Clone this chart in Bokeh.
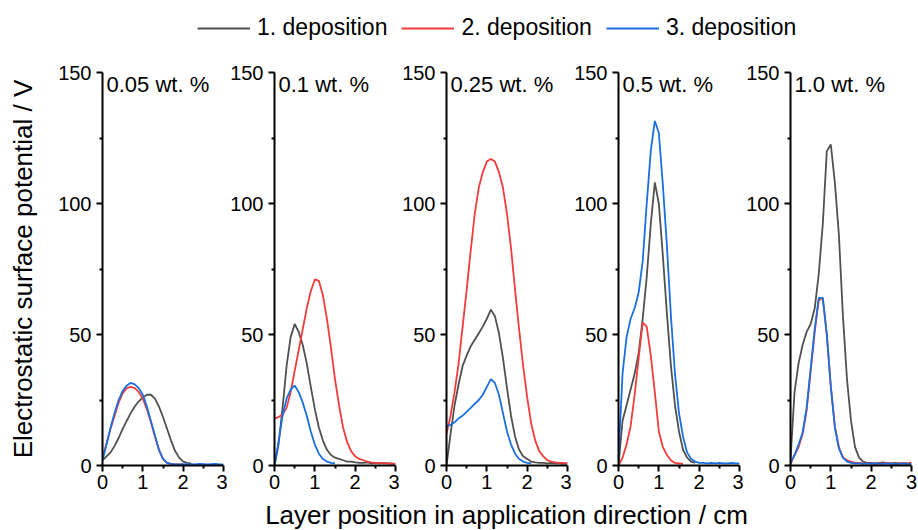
import numpy as np
from bokeh.plotting import figure
from bokeh.layouts import column, row
from bokeh.models import Range1d, Label, Legend, LegendItem, FixedTicker
from bokeh.embed import file_html
from bokeh.resources import INLINE

# ---------------- data ----------------
position_cm = [0.0, 0.1, 0.2, 0.3, 0.4, 0.5, 0.6, 0.7, 0.8, 0.9,
               1.0, 1.1, 1.2, 1.3, 1.4, 1.5, 1.6, 1.7, 1.8, 1.9,
               2.0, 2.1, 2.2, 2.3, 2.4, 2.5, 2.6, 2.7, 2.8, 2.9, 3.0]

panel_titles = ["0.05 wt. %", "0.1 wt. %", "0.25 wt. %", "0.5 wt. %", "1.0 wt. %"]
series_names = ["1. deposition", "2. deposition", "3. deposition"]
series_colors = ["#505050", "#f23c3c", "#1a6fe0"]

N = None
# 0.05 wt. %
dep1_005 = [2, 3.5, 5, 7.5, 10.5, 14, 17, 20, 22.5, 24.5, 26, 27, 27, 25.5, 22.5, 18.5, 14, 9.5, 5.5, 3, 1.5, 1, 0.8, N, N, N, N, N, N, N, N]
dep2_005 = [3, 8.5, 14, 19, 24, 27.5, 29.5, 30, 29.5, 28, 25.5, 21.5, 16.5, 11, 6, 2.5, 1, 0.6, 0.4, 0.4, 0.3, N, N, N, N, N, N, N, N, N, N]
dep3_005 = [2, 8, 14.5, 20, 25, 28.5, 30.5, 31.5, 31, 29.5, 27, 22.5, 17, 11.5, 6, 2.5, 1, 0.6, 0.4, 0.4, 0.5, 0.4, 0.5, 0.4, 0.6, 0.5, 0.4, 0.5, 0.6, 0.4, 0.4]
# 0.1 wt. %
dep1_01 = [0, 8, 22, 38, 49, 54, 51, 46, 39, 30, 21.5, 14.5, 9.5, 6, 4, 3, 2.5, 2, 1.5, 1.5, 1.2, 1, 1, 1.2, 0.8, 1, 0.8, 1, 0.8, 0.8, 0.6]
dep2_01 = [18, 18.5, 19.5, 22, 28, 36, 44, 52, 60, 66.5, 71, 70.5, 65, 56, 45, 33, 23, 14.5, 9, 5.5, 3.5, 2.5, 2, 1.5, 1.2, 1, 1, 0.8, 0.8, 0.6, 0.6]
dep3_01 = [0, 9, 19, 25.5, 29, 30.5, 28, 24, 19, 13, 8, 4.5, 2.5, 1.5, 1, 0.8, N, N, N, N, N, N, N, N, N, N, N, N, N, N, N]
# 0.25 wt. %
dep1_025 = [0, 12, 23, 31, 38, 42, 45.5, 48, 50.5, 53, 56, 59.5, 57, 50.5, 41, 29.5, 19, 11, 6, 3.5, 2.5, 1.5, 1.2, 1, 1, 0.8, 1, 0.8, 0.8, 0.6, 0.8]
dep2_025 = [12, 19, 28, 39, 53, 67, 82, 96, 106, 112, 116, 117, 116, 112, 106, 96, 83, 67, 52, 38, 26, 16, 9.5, 5.5, 3.5, 2, 1.5, 1.2, 1, 1, 0.8]
dep3_025 = [15, 15.5, 16.5, 18, 19, 20.5, 22, 23.5, 25, 27, 30, 33, 31.5, 27, 20, 13, 8, 4.5, 2.5, 1.5, 1, 0.8, N, N, N, N, N, N, N, N, N]
# 0.5 wt. %
dep1_05 = [0, 17, 23, 29, 35, 43, 56, 72, 92, 108, 100, 80, 58, 38, 23, 13, 6, 3, 1.5, 1, N, N, N, N, N, N, N, N, N, N, N]
dep2_05 = [0, 3, 8, 15, 27, 41, 54.5, 53, 42, 28, 13, 7, 4, 2, 1, 0.8, 0.6, N, N, N, N, N, N, N, N, N, N, N, N, N, N]
dep3_05 = [3, 35, 49, 56, 60, 66, 78, 100, 120, 131.5, 127, 107, 84, 57, 35, 20, 11, 5, 2.5, 1.5, 1, 1, 0.8, 1, 0.8, 1, 0.8, 0.8, 1, 0.8, 0.8]
# 1.0 wt. %
dep1_10 = [2, 28, 39, 46, 51, 54, 60, 73, 92, 120, 122.5, 108, 88, 57, 33, 17, 7, 3, 1.5, 1, 1, 0.8, 1, 1.2, 0.8, 0.8, 1, 0.8, 0.8, 0.6, 0.8]
dep2_10 = [0.5, 4, 7, 12, 21, 36, 51, 63, 64, 50, 30, 15, 7, 3, 2, 1.5, 1, 1, 0.8, 0.8, 0.8, 0.6, 0.8, 0.8, 1, 0.8, 0.6, 0.8, 1, 0.8, 1.2]
dep3_10 = [1, 4, 8, 12.5, 22, 37, 52, 64, 64, 50, 30, 14.5, 6.5, 3, 1.5, 1, 0.8, 0.8, 0.6, 0.8, 0.6, 0.8, 0.6, 0.6, 0.8, 0.6, 0.6, 0.6, 0.8, 0.6, 0.6]

panels = [
    (dep1_005, dep2_005, dep3_005),
    (dep1_01, dep2_01, dep3_01),
    (dep1_025, dep2_025, dep3_025),
    (dep1_05, dep2_05, dep3_05),
    (dep1_10, dep2_10, dep3_10),
]

x_ticks = [0, 1, 2, 3]
x_minor = [0.5, 1.5, 2.5]
y_ticks = [0, 50, 100, 150]
y_minor = [25, 75, 125]

FONT = "Liberation Sans"
TOTAL_W = 918
LINE_W = 1.8

# ---------------- legend strip ----------------
leg = figure(width=TOTAL_W, height=48, x_range=Range1d(0, 1), y_range=Range1d(0, 1),
             x_axis_type=None, y_axis_type=None, output_backend="svg",
             toolbar_location=None, min_border=0)
leg.outline_line_color = None
leg.grid.visible = False
items = []
for name, col in zip(series_names, series_colors):
    # legend swatch only: kept outside the visible range
    r = leg.line(x=[-2, -1], y=[-2, -2], line_color=col, line_width=LINE_W)
    items.append(LegendItem(label=name, renderers=[r]))
legend = Legend(items=items, orientation="horizontal", location=(197, 7),
                glyph_width=53, glyph_height=20, label_standoff=7, spacing=14,
                padding=0, margin=0, border_line_color=None, background_fill_alpha=0,
                label_text_font=FONT, label_text_font_size="23px", label_text_color="black")
leg.add_layout(legend, "center")

# ---------------- panels ----------------
figs = []
for i, (title, series) in enumerate(zip(panel_titles, panels)):
    first = i == 0
    last = i == len(panels) - 1
    p = figure(frame_width=121, frame_height=393,
               x_range=Range1d(0, 3), y_range=Range1d(0, 150),
               output_backend="svg", toolbar_location=None,
               min_border_left=102 if first else 47,
               min_border_right=7 if last else 4,
               min_border_top=24, min_border_bottom=34)
    p.outline_line_color = None
    p.grid.visible = False
    p.background_fill_color = None
    p.border_fill_color = None
    p.xaxis.ticker = FixedTicker(ticks=x_ticks, minor_ticks=x_minor)
    p.yaxis.ticker = FixedTicker(ticks=y_ticks, minor_ticks=y_minor)
    for ax in (p.xaxis, p.yaxis):
        ax.axis_line_width = 2
        ax.axis_line_color = "black"
        ax.major_tick_line_width = 2
        ax.minor_tick_line_width = 2
        ax.major_tick_line_color = "black"
        ax.minor_tick_line_color = "black"
        ax.major_tick_in = 0
        ax.major_tick_out = 6
        ax.minor_tick_in = 0
        ax.minor_tick_out = 3
        ax.major_label_text_font = FONT
        ax.major_label_text_font_size = "20px"
        ax.major_label_text_color = "black"
    p.xaxis.major_label_standoff = 3
    p.yaxis.major_label_standoff = 5
    if first:
        p.yaxis.axis_label = "Electrostatic surface potential / V"
        p.yaxis.axis_label_text_font = FONT
        p.yaxis.axis_label_text_font_size = "26px"
        p.yaxis.axis_label_text_font_style = "normal"
        p.yaxis.axis_label_text_color = "black"
        p.yaxis.axis_label_standoff = 17
    for ys, col in zip(series, series_colors):
        p.line(x=position_cm, y=np.array(ys, dtype=float), line_color=col, line_width=LINE_W)
    p.add_layout(Label(x=0, y=150, x_offset=4, y_offset=1, text=title,
                       text_baseline="top", text_font=FONT, text_font_size="22px",
                       text_color="black"))
    figs.append(p)

# ---------------- x label strip ----------------
xl = figure(width=TOTAL_W, height=31, x_range=Range1d(0, 1), y_range=Range1d(0, 1),
            x_axis_type=None, y_axis_type=None, output_backend="svg",
            toolbar_location=None, min_border=0)
xl.outline_line_color = None
xl.grid.visible = False
xl.add_layout(Label(x=506, y=16, x_units="screen", y_units="screen",
                    text="Layer position in application direction / cm",
                    text_align="center", text_baseline="middle",
                    text_font=FONT, text_font_size="26px", text_color="black"))

layout = column(leg, row(*figs, spacing=0), xl, spacing=0)

with open("out.html", "w") as f:
    f.write(file_html(layout, INLINE))
